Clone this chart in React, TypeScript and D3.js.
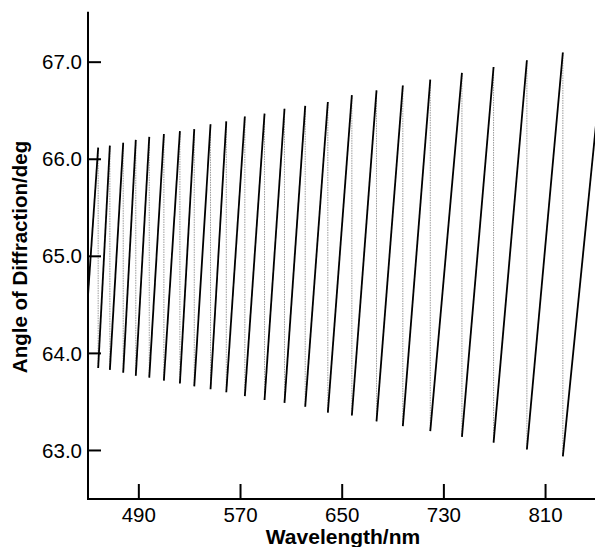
import React from "react";
import * as d3 from "d3";

// Wavelengths (nm) where each tooth peaks and the curve drops back
const breakWavelengths = [458.0, 467.2, 477.7, 487.6, 498.2, 509.7, 522.3, 533.6, 546.4, 558.8, 573.4, 588.9, 604.6, 620.9, 638.7, 657.6, 677.0, 697.7, 719.3, 744.2, 769.1, 795.3, 823.6];
// Angle (deg) at the top of each tooth
const peakAngles = [66.12, 66.14, 66.17, 66.20, 66.23, 66.26, 66.29, 66.31, 66.36, 66.39, 66.44, 66.47, 66.52, 66.55, 66.59, 66.66, 66.71, 66.76, 66.82, 66.89, 66.95, 67.02, 67.10];
// Angle (deg) at the bottom after each drop
const troughAngles = [63.85, 63.83, 63.80, 63.77, 63.75, 63.72, 63.69, 63.66, 63.63, 63.60, 63.56, 63.52, 63.49, 63.45, 63.39, 63.36, 63.30, 63.25, 63.20, 63.14, 63.08, 63.01, 62.94];
const startWavelength = 450;
const startAngle = 64.6;
const endWavelength = 850;
const endAngle = 66.4;

const xTicks = [490, 570, 650, 730, 810];
const yTicks = [63.0, 64.0, 65.0, 66.0, 67.0];
const xDomain = [450, 850];
const yDomain = [62.5, 67.52];

const W = 595;
const H = 547;

export default function App() {
  const x = d3.scaleLinear().domain(xDomain).range([88, 596.4]);
  const y = d3.scaleLinear().domain(yDomain).range([499, 11.7]);
  const line = d3
    .line<[number, number]>()
    .x((d) => x(d[0]))
    .y((d) => y(d[1]));

  const rising: [number, number][][] = [];
  const drops: [number, number][][] = [];
  let prev: [number, number] = [startWavelength, startAngle];
  breakWavelengths.forEach((wl, i) => {
    rising.push([prev, [wl, peakAngles[i]]]);
    drops.push([[wl, peakAngles[i]], [wl, troughAngles[i]]]);
    prev = [wl, troughAngles[i]];
  });
  rising.push([prev, [endWavelength, endAngle]]);

  const font = "'Liberation Sans', Arial, Helvetica, sans-serif";
  const x0 = x(xDomain[0]);
  const yBase = y(yDomain[0]);

  return (
    <svg
      width={W}
      height={H}
      style={{ position: "absolute", left: 0, top: 0, background: "#fff" }}
      fontFamily={font}
    >
      <defs>
        <clipPath id="plot">
          <rect x={x0} y={0} width={W - x0} height={yBase} />
        </clipPath>
      </defs>
      <g clipPath="url(#plot)">
        {drops.map((d, i) => (
          <path
            key={"d" + i}
            d={line(d) || ""}
            stroke="#9a9a9a"
            strokeWidth={1}
            strokeDasharray="1.5 1"
            fill="none"
          />
        ))}
        {rising.map((d, i) => (
          <path key={"r" + i} d={line(d) || ""} stroke="#000" strokeWidth={1.8} fill="none" />
        ))}
      </g>
      <line x1={x0} x2={x0} y1={y(yDomain[1])} y2={yBase + 1} stroke="#000" strokeWidth={2} />
      <line x1={x0 - 1} x2={W} y1={yBase} y2={yBase} stroke="#000" strokeWidth={2} />
      {yTicks.map((t) => (
        <g key={"yt" + t}>
          <line x1={x0} x2={x0 + 13} y1={y(t)} y2={y(t)} stroke="#000" strokeWidth={2} />
          <text x={x0 - 6} y={y(t)} dy="0.35em" textAnchor="end" fontSize={20.5} fill="#000">
            {t.toFixed(1)}
          </text>
        </g>
      ))}
      {xTicks.map((t) => (
        <g key={"xt" + t}>
          <line x1={x(t)} x2={x(t)} y1={yBase} y2={yBase - 15} stroke="#000" strokeWidth={2} />
          <text x={x(t)} y={yBase + 23} textAnchor="middle" fontSize={20.5} fill="#000">
            {t}
          </text>
        </g>
      ))}
      <text x={343} y={544} textAnchor="middle" fontSize={21} fontWeight="bold" fill="#000">
        Wavelength/nm
      </text>
      <text
        transform={`translate(27, 257) rotate(-90)`}
        textAnchor="middle"
        fontSize={20.5}
        fontWeight="bold"
        fill="#000"
      >
        Angle of Diffraction/deg
      </text>
    </svg>
  );
}
